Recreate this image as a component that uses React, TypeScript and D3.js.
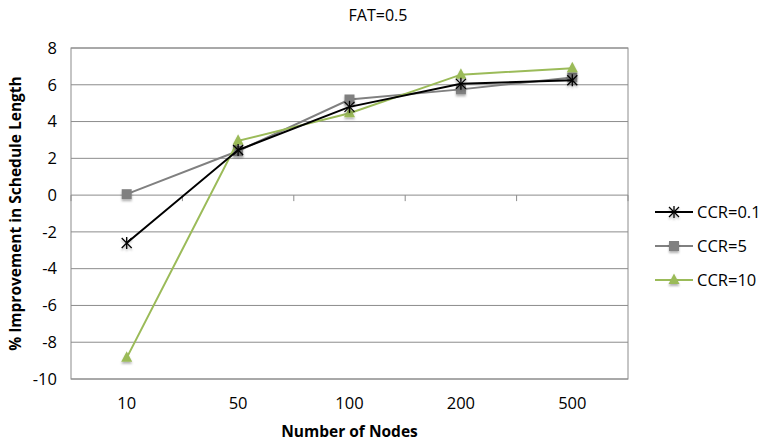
import React from "react";
import * as d3 from "d3";

const nodeCounts = ["10", "50", "100", "200", "500"];
const ccr01 = [-2.6, 2.45, 4.8, 6.05, 6.25];
const ccr5 = [0.05, 2.4, 5.2, 5.75, 6.4];
const ccr10 = [-8.85, 2.95, 4.45, 6.55, 6.9];
const yTicks = [-10, -8, -6, -4, -2, 0, 2, 4, 6, 8];

const seriesNames = ["CCR=0.1", "CCR=5", "CCR=10"];
const seriesColors = ["#000000", "#808080", "#9bbb59"];
const seriesMarkers = ["star", "square", "triangle"];

const W = 761;
const H = 441;
const plot = { left: 71, right: 628, top: 48, bottom: 379 };
const FONT = "'Open Sans', 'Liberation Sans', sans-serif";

function Marker({ kind, x, y, color }: { kind: string; x: number; y: number; color: string }) {
  if (kind === "square") {
    return <rect x={x - 5} y={y - 5} width={10} height={10} fill={color} filter="url(#shadow)" />;
  }
  if (kind === "triangle") {
    const p = d3.path();
    p.moveTo(x, y - 6.5);
    p.lineTo(x + 5.5, y + 4);
    p.lineTo(x - 5.5, y + 4);
    p.closePath();
    return <path d={p.toString()} fill={color} filter="url(#shadow)" />;
  }
  const r = 5;
  return (
    <g stroke={color} strokeWidth={1.3} filter="url(#shadow)">
      <line x1={x - r} y1={y - r} x2={x + r} y2={y + r} />
      <line x1={x - r} y1={y + r} x2={x + r} y2={y - r} />
      <line x1={x} y1={y - r - 1} x2={x} y2={y + r + 1} />
    </g>
  );
}

export default function App() {
  const x = d3.scaleBand<string>().domain(nodeCounts).range([plot.left, plot.right]);
  const y = d3.scaleLinear().domain([-10, 8]).range([plot.bottom, plot.top]);
  const cx = (c: string) => (x(c) as number) + x.bandwidth() / 2;
  const line = d3
    .line<[number, number]>()
    .x((d) => d[0])
    .y((d) => d[1]);
  const allSeries = [ccr01, ccr5, ccr10];
  const drawOrder = [1, 2, 0];

  const legendY = [212, 246, 280];

  return (
    <svg
      width={W}
      height={H}
      style={{ position: "absolute", left: 0, top: 0, background: "#fff" }}
      fontFamily={FONT}
    >
      <defs>
        <filter id="shadow" x="-50%" y="-50%" width="200%" height="200%">
          <feDropShadow dx={0} dy={2} stdDeviation={1.2} floodColor="#000" floodOpacity={0.3} />
        </filter>
      </defs>
      <text x={378} y={21} textAnchor="middle" fontSize={16} fill="#000">
        FAT=0.5
      </text>

      {yTicks.map((t) => (
        <g key={t}>
          <line x1={plot.left} x2={plot.right} y1={y(t)} y2={y(t)} stroke="#8c8c8c" strokeWidth={1} />
          <text x={plot.left - 14} y={y(t)} dy="0.35em" textAnchor="end" fontSize={16.5} fill="#000">
            {t}
          </text>
        </g>
      ))}
      <rect
        x={plot.left}
        y={plot.top}
        width={plot.right - plot.left}
        height={plot.bottom - plot.top}
        fill="none"
        stroke="#8c8c8c"
        strokeWidth={1}
      />
      {d3.range(nodeCounts.length + 1).map((i) => {
        const tx = plot.left + i * x.bandwidth();
        return <line key={i} x1={tx} x2={tx} y1={y(0)} y2={y(0) + 6} stroke="#8c8c8c" strokeWidth={1} />;
      })}
      {nodeCounts.map((c) => (
        <text key={c} x={cx(c)} y={403} dy="0.35em" textAnchor="middle" fontSize={16.5} fill="#000">
          {c}
        </text>
      ))}
      <text x={(plot.left + plot.right) / 2} y={437} textAnchor="middle" fontSize={15.5} fontWeight="bold">
        Number of Nodes
      </text>
      <text
        transform={`translate(21, ${(plot.top + plot.bottom) / 2}) rotate(-90)`}
        textAnchor="middle"
        fontSize={15.5}
        fontWeight="bold"
      >
        % Improvement in Schedule Length
      </text>

      {drawOrder.map((si) => {
        const pts = allSeries[si].map((v, i) => [cx(nodeCounts[i]), y(v)] as [number, number]);
        return (
          <g key={si}>
            <path d={line(pts) as string} fill="none" stroke={seriesColors[si]} strokeWidth={2} />
            {pts.map((p, i) => (
              <Marker key={i} kind={seriesMarkers[si]} x={p[0]} y={p[1]} color={seriesColors[si]} />
            ))}
          </g>
        );
      })}

      {seriesNames.map((name, si) => (
        <g key={name}>
          <line x1={655} x2={693} y1={legendY[si]} y2={legendY[si]} stroke={seriesColors[si]} strokeWidth={2} />
          <Marker kind={seriesMarkers[si]} x={674} y={legendY[si]} color={seriesColors[si]} />
          <text x={697} y={legendY[si]} dy="0.35em" fontSize={16.5} fill="#000">
            {name}
          </text>
        </g>
      ))}
    </svg>
  );
}
